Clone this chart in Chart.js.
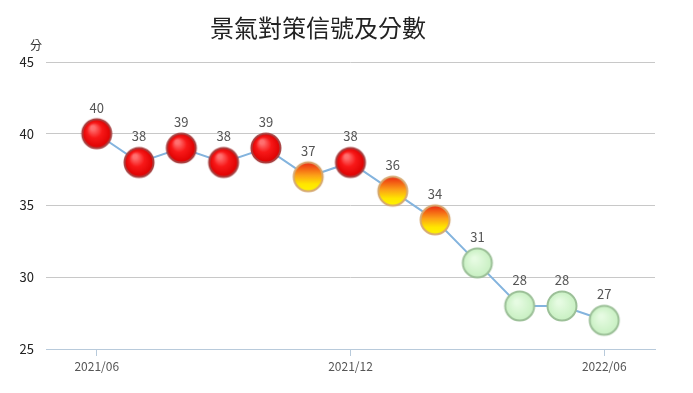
<!DOCTYPE html>
<html>
<head>
<meta charset="utf-8">
<script src="https://cdn.jsdelivr.net/npm/chart.js@4"></script>
<style>
  html, body { margin: 0; padding: 0; background: #fff; }
  #wrap { width: 693px; height: 393px; }
</style>
</head>
<body>
<div id="wrap"><canvas id="signalChart" width="693" height="393"></canvas></div>
<script>
// Data
const months = ['2021/06', '2021/07', '2021/08', '2021/09', '2021/10', '2021/11', '2021/12',
                '2022/01', '2022/02', '2022/03', '2022/04', '2022/05', '2022/06'];
const scores = [40, 38, 39, 38, 39, 37, 38, 36, 34, 31, 28, 28, 27];
const signals = ['red', 'red', 'red', 'red', 'red', 'yellowRed', 'red', 'yellowRed', 'yellowRed',
                 'green', 'green', 'green', 'green'];
const xTickIndex = [0, 6, 12];
const yTicks = [25, 30, 35, 40, 45];

const FONT = '"Noto Sans CJK TC", "Noto Sans", sans-serif';

// Build ball images for each signal colour
function makeBall(kind) {
    const size = 34, r = 14.5, c = size / 2;
    const cv = document.createElement('canvas');
    cv.width = size; cv.height = size;
    const g = cv.getContext('2d');
    let fill, stroke;
    if (kind === 'red') {
        fill = g.createRadialGradient(c - 4, c - 6, 2, c, c, r);
        fill.addColorStop(0, '#ff7070');
        fill.addColorStop(0.45, '#f81818');
        fill.addColorStop(1, '#dc0000');
        stroke = '#a84040';
    } else if (kind === 'yellowRed') {
        fill = g.createLinearGradient(0, c - r, 0, c + r);
        fill.addColorStop(0, '#ec2a12');
        fill.addColorStop(0.45, '#fca018');
        fill.addColorStop(0.75, '#ffe600');
        fill.addColorStop(1, '#fff400');
        stroke = '#d6a870';
    } else {
        fill = g.createRadialGradient(c - 3, c - 4, 2, c, c, r);
        fill.addColorStop(0, '#e6fbe2');
        fill.addColorStop(1, '#c8f0c2');
        stroke = '#9cc098';
    }
    g.beginPath();
    g.arc(c, c, r, 0, Math.PI * 2);
    g.fillStyle = fill;
    g.fill();
    g.lineWidth = 2;
    g.strokeStyle = stroke;
    g.stroke();
    return cv;
}
const balls = {
    red: makeBall('red'),
    yellowRed: makeBall('yellowRed'),
    green: makeBall('green')
};

// Value labels, title and unit drawn on top
const extrasPlugin = {
    id: 'extras',
    afterDatasetsDraw(chart) {
        const c = chart.ctx;
        const meta = chart.getDatasetMeta(0);
        c.save();
        c.font = '13px ' + FONT;
        c.fillStyle = '#555';
        c.textAlign = 'center';
        c.textBaseline = 'middle';
        meta.data.forEach((pt, i) => {
            c.fillText(String(scores[i]), pt.x, pt.y - 26);
        });
        c.font = '24px ' + FONT;
        c.fillStyle = '#222';
        c.fillText('景氣對策信號及分數', 318, 28);
        c.font = '12px ' + FONT;
        c.fillStyle = '#333';
        c.fillText('分', 36, 45);
        c.restore();
    }
};

const ctx = document.getElementById('signalChart').getContext('2d');
const chart = new Chart(ctx, {
    type: 'line',
    data: {
        datasets: [{
            data: scores.map((v, i) => ({ x: i, y: v })),
            borderColor: '#84b4de',
            borderWidth: 2,
            pointStyle: signals.map(s => balls[s]),
            pointRadius: 15,
            pointHoverRadius: 15,
            tension: 0,
            fill: false
        }]
    },
    options: {
        responsive: false,
        animation: false,
        events: [],
        layout: { padding: { top: 62, right: 38, bottom: 0, left: 0 } },
        plugins: {
            legend: { display: false },
            title: { display: false },
            tooltip: { enabled: false }
        },
        scales: {
            x: {
                type: 'linear',
                min: -1.2,
                max: 13.2,
                afterBuildTicks: axis => { axis.ticks = xTickIndex.map(v => ({ value: v })); },
                afterFit: scale => { scale.height = 44; },
                ticks: {
                    callback: v => months[v],
                    color: '#555',
                    font: { family: FONT, size: 12 },
                    padding: 3,
                    maxRotation: 0
                },
                grid: {
                    drawOnChartArea: false,
                    drawTicks: true,
                    tickLength: 7,
                    color: '#b8cadb'
                },
                border: { display: true, color: '#b8cadb', width: 1 }
            },
            y: {
                min: 25,
                max: 45,
                afterBuildTicks: axis => { axis.ticks = yTicks.map(v => ({ value: v })); },
                afterFit: scale => { scale.width = 46; },
                ticks: {
                    color: '#222',
                    font: { family: FONT, size: 13 },
                    padding: 12
                },
                grid: {
                    color: '#c8c8c8',
                    drawTicks: false
                },
                border: { display: false }
            }
        }
    },
    plugins: [extrasPlugin]
});
</script>
</body>
</html>
